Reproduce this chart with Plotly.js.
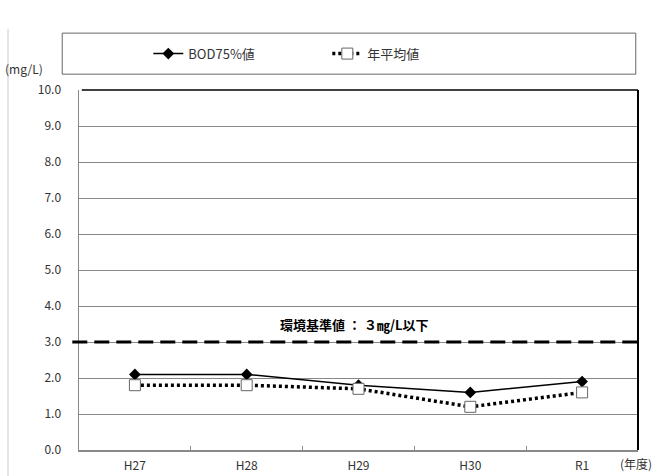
<!DOCTYPE html>
<html><head><meta charset="utf-8">
<script src="https://cdn.plot.ly/plotly-3.0.1.min.js"></script>
<style>html,body{margin:0;padding:0;background:#fff}</style>
</head><body><div id="chart" style="width:654px;height:476px"></div>
<script>
var years = ["H27", "H28", "H29", "H30", "R1"];
var bod75 = [2.1, 2.1, 1.8, 1.6, 1.9];
var annualMean = [1.8, 1.8, 1.7, 1.2, 1.6];
var standardValue = 3.0;
var standardLabel = "環境基準値 ： ３㎎/L以下";
var yTicks = [0,1,2,3,4,5,6,7,8,9,10];
var yTickText = ["0.0","1.0","2.0","3.0","4.0","5.0","6.0","7.0","8.0","9.0","10.0"];
var FONT = "'MS PGothic','Noto Sans CJK JP', sans-serif";

var traces = [
  {x: years, y: bod75, name: "BOD75%値", type: "scatter", mode: "lines+markers",
   line: {color: "#000", width: 1.5}, marker: {symbol: "diamond", size: 9, color: "#000"}},
  {x: years, y: annualMean, name: "年平均値", type: "scatter", mode: "lines+markers",
   line: {color: "#000", width: 3.5, dash: "3px,3px"},
   marker: {symbol: "square", size: 11, color: "#fff", line: {color: "#666", width: 1}}}
];

var layout = {
  width: 654, height: 476,
  margin: {l: 79, r: 16, t: 90, b: 26},
  paper_bgcolor: "#fff", plot_bgcolor: "#fff",
  font: {family: FONT, size: 12, color: "#333"},
  showlegend: true,
  legend: {orientation: "h", x: 0.124, xanchor: "left", y: 1.101, yanchor: "middle",
           entrywidth: 134, entrywidthmode: "pixels", bgcolor: "rgba(0,0,0,0)",
           font: {family: FONT, size: 13, color: "#333"}},
  xaxis: {type: "category", range: [-0.5, 4.5], showgrid: false, showline: true, linecolor: "#888", linewidth: 1.5,
          ticks: "inside", tickson: "boundaries", ticklen: 4, tickcolor: "#888",
          ticklabelstandoff: 4, zeroline: false, fixedrange: true},
  yaxis: {range: [0, 10], tickvals: yTicks, ticktext: yTickText, showgrid: true,
          gridcolor: "#888", gridwidth: 1, showline: true, linecolor: "#888", linewidth: 1.5,
          ticks: "", ticklabelstandoff: 14, zeroline: false, fixedrange: true},
  shapes: [
    {type: "line", xref: "paper", yref: "y", x0: -0.012, x1: 1, y0: standardValue, y1: standardValue,
     line: {color: "#000", width: 3, dash: "15px,7px"}},
    {type: "line", xref: "paper", yref: "paper", x0: 0.005, x1: 1, y0: 1, y1: 1,
     line: {color: "#000", width: 1.5}},
    {type: "line", xref: "paper", yref: "paper", x0: 1, x1: 1, y0: 0, y1: 1,
     line: {color: "#000", width: 2}},
    {type: "rect", xref: "paper", yref: "paper", x0: -0.030, x1: 0.996, y0: 1.044, y1: 1.158,
     line: {color: "#666", width: 1}},
    {type: "line", xref: "paper", yref: "paper", x0: -0.127, x1: -0.127, y0: -0.08, y1: 1.17,
     line: {color: "#ccc", width: 1}}
  ],
  annotations: [
    {xref: "paper", yref: "y", x: 0.492, y: 3.5, text: "<b>" + standardLabel + "</b>", showarrow: false,
     font: {family: FONT, size: 13, color: "#000"}},
    {xref: "paper", yref: "paper", x: -0.136, y: 1.06, xanchor: "left", yanchor: "middle",
     text: "(mg/L)", showarrow: false, font: {family: FONT, size: 12, color: "#333"}},
    {xref: "paper", yref: "paper", x: 1.029, y: -0.038, xanchor: "right", yanchor: "middle",
     text: "(年度)", showarrow: false, font: {family: FONT, size: 12, color: "#333"}}
  ]
};
Plotly.newPlot("chart", traces, layout, {displayModeBar: false, staticPlot: true});
</script></body></html>
